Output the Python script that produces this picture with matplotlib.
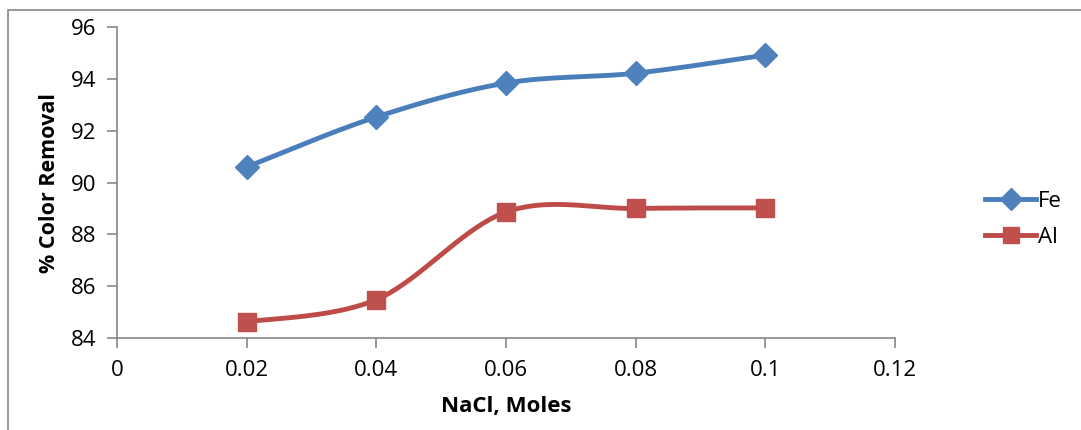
import numpy as np
import matplotlib.pyplot as plt
from matplotlib.patches import Rectangle

# data
nacl = [0.02, 0.04, 0.06, 0.08, 0.1]
fe = [90.6, 92.53, 93.84, 94.22, 94.92]
al = [84.62, 85.48, 88.86, 89.0, 89.02]

blue = '#4A7EBB'
red = '#BE4B48'


# smoothed line like the spreadsheet one (cubic bezier through the points)
def smooth(x, y, n=40):
    x = np.asarray(x, float)
    y = np.asarray(y, float)
    xs, ys = [], []
    for i in range(len(x) - 1):
        p0 = (x[max(i - 1, 0)], y[max(i - 1, 0)])
        p1 = (x[i], y[i])
        p2 = (x[i + 1], y[i + 1])
        p3 = (x[min(i + 2, len(x) - 1)], y[min(i + 2, len(x) - 1)])
        c1 = (p1[0] + (p2[0] - p0[0]) / 6, p1[1] + (p2[1] - p0[1]) / 6)
        c2 = (p2[0] - (p3[0] - p1[0]) / 6, p2[1] - (p3[1] - p1[1]) / 6)
        t = np.linspace(0, 1, n)
        bx = (1-t)**3*p1[0] + 3*(1-t)**2*t*c1[0] + 3*(1-t)*t**2*c2[0] + t**3*p2[0]
        by = (1-t)**3*p1[1] + 3*(1-t)**2*t*c1[1] + 3*(1-t)*t**2*c2[1] + t**3*p2[1]
        xs.extend(bx)
        ys.extend(by)
    return xs, ys


plt.rcParams['font.family'] = ['Open Sans', 'DejaVu Sans']

fig = plt.figure(figsize=(10.81, 4.30), dpi=100)
ax = fig.add_axes([0.1082, 0.214, 0.7197, 0.723])

# outer chart border (partly off the picture)
fig.patches.append(Rectangle((8 / 1081, -0.05), 1.1, 0.05 + 1 - 10 / 430,
                             transform=fig.transFigure, fill=False,
                             edgecolor='#868686', linewidth=1.2))

sx, sy = smooth(nacl, fe)
ax.plot(sx, sy, color=blue, linewidth=3.5, solid_capstyle='round')
ax.plot(nacl, fe, linestyle='none', marker='D', markersize=12.5,
        color='#4F81BD')
sx, sy = smooth(nacl, al)
ax.plot(sx, sy, color=red, linewidth=3.5, solid_capstyle='round')
ax.plot(nacl, al, linestyle='none', marker='s', markersize=13,
        color='#C0504D')

# legend handles
ax.plot([], [], color=blue, linewidth=3.5, marker='D', markersize=11,
        markerfacecolor='#4F81BD', markeredgecolor='#4F81BD', label='Fe')
ax.plot([], [], color=red, linewidth=3.5, marker='s', markersize=12,
        markerfacecolor='#C0504D', markeredgecolor='#C0504D', label='Al')
handles, labels = ax.get_legend_handles_labels()
fig.legend(handles, labels, loc='center left', bbox_to_anchor=(0.893, 0.49),
           frameon=False, fontsize=16, handlelength=2.3, handletextpad=0.05,
           labelspacing=0.68)

ax.set_xlim(0, 0.12)
ax.set_ylim(84, 96)
ax.set_xticks([0, 0.02, 0.04, 0.06, 0.08, 0.1, 0.12])
ax.set_xticklabels(['0', '0.02', '0.04', '0.06', '0.08', '0.1', '0.12'])
ax.set_yticks([84, 86, 88, 90, 92, 94, 96])

for s in ['top', 'right']:
    ax.spines[s].set_visible(False)
for s in ['left', 'bottom']:
    ax.spines[s].set_color('#868686')
    ax.spines[s].set_linewidth(1.2)
ax.tick_params(colors='#868686', labelcolor='black', labelsize=16,
               length=7, width=1.2, direction='out')
ax.tick_params(axis='x', pad=9)
ax.tick_params(axis='y', pad=8)

ax.set_xlabel('NaCl, Moles', fontsize=16, fontweight='bold', labelpad=11)
ax.set_ylabel('% Color Removal', fontsize=15.5, fontweight='bold', labelpad=8)

fig.savefig('out.png', dpi=100)
